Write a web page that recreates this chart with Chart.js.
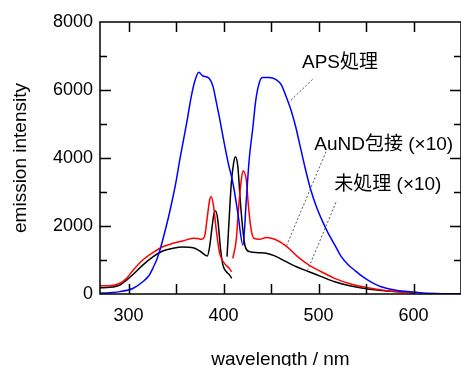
<!DOCTYPE html>
<html lang="ja">
<head>
<meta charset="UTF-8">
<title>emission spectra</title>
<script src="https://cdn.jsdelivr.net/npm/chart.js"></script>
<style>
  html, body { margin: 0; padding: 0; background: #fff; }
  #wrap { position: relative; width: 461px; height: 366px; }
</style>
</head>
<body>
<div id="wrap"><canvas id="spec"></canvas></div>
<script>
// APS処理
const apsWl  = [270, 280, 291, 305, 315, 322, 326, 330, 334, 338, 342, 346, 350, 354, 358, 362, 366, 370, 374, 378, 385, 389, 392, 396, 400, 405, 410, 415, 420.5, 424, 427, 431, 434, 438, 441, 448, 455, 461, 466, 471, 476, 480, 486, 492, 498, 504, 510, 517, 524, 531, 538, 545, 552, 559, 566, 580, 594, 610, 630, 650];
const apsVal = [20, 40, 70, 170, 360, 560, 780, 1030, 1380, 1800, 2250, 2750, 3300, 3950, 4550, 5150, 5800, 6280, 6520, 6420, 6340, 6100, 5705, 5150, 4550, 3850, 3250, 2400, 1440, 2765, 3940, 4920, 5705, 6245, 6370, 6370, 6310, 6145, 5800, 5410, 4920, 4430, 3700, 3050, 2550, 2150, 1800, 1450, 1100, 870, 700, 540, 410, 300, 215, 118, 70, 30, 10, 5];

// AuND包接 (×10), two pieces
const aundWl1  = [270, 280, 291, 298, 305, 315, 326, 336, 347, 357, 368, 373, 377, 380, 383, 385.4, 387.2, 389.6, 392.4, 396, 401, 406, 408.6];
const aundVal1 = [245, 245, 315, 460, 705, 1000, 1225, 1390, 1490, 1560, 1640, 1630, 1610, 1685, 2275, 2765, 2860, 2570, 1880, 1195, 900, 755, 655];
const aundWl2  = [409.8, 413.4, 416, 418.7, 420.5, 424, 426.3, 429.2, 432, 438, 445, 454, 466, 478, 490, 503, 517, 534, 552, 572, 587, 600];
const aundVal2 = [1050, 1590, 2570, 3350, 3620, 3350, 2570, 1880, 1640, 1610, 1665, 1610, 1410, 1100, 850, 655, 460, 295, 185, 95, 60, 35];

// 未処理 (×10), two pieces
const rawWl1  = [270, 280, 291, 298, 305, 315, 326, 336, 347, 357, 368, 375, 383, 385.4, 388, 390, 391.7, 394, 397, 399.4, 403, 406.4, 408.6];
const rawVal1 = [185, 195, 265, 410, 580, 850, 1100, 1265, 1345, 1380, 1360, 1265, 1120, 1390, 1980, 2370, 2440, 2175, 1295, 850, 655, 560, 460];
const rawWl2  = [403.7, 405.7, 408.2, 410.6, 412.5, 415.1, 417.6, 420.4, 422.9, 427.4, 436, 445, 454, 466, 478, 490, 503, 517, 534, 552, 572, 587, 600];
const rawVal2 = [1100, 2080, 3255, 3845, 4040, 3745, 2765, 1880, 1390, 1245, 1215, 1200, 1120, 950, 785, 655, 510, 360, 235, 147, 88, 65, 40];

const xLabels = [300, 400, 500, 600];
const yLabels = [0, 2000, 4000, 6000, 8000];

// labels with leader lines, in data units: text anchor, then line start/end
const noteText = ['APS処理', 'AuND包接 (×10)', '未処理 (×10)'];
const noteAt   = [[482.6, 6794], [495.6, 4382], [516.6, 3206]];
const noteFrom = [[493.8, 6314], [507.9, 4185], [518.4, 2697]];
const noteTo   = [[469.4, 5656], [465.9, 1391], [488.6, 706]];

const FONT = '"Liberation Sans", Arial, "Noto Sans CJK JP", sans-serif';

function pts(xs, ys) {
    return xs.map((x, i) => ({ x: x, y: ys[i] }));
}

function line(data, color) {
    return {
        data: data,
        borderColor: color,
        borderWidth: 1.5,
        pointRadius: 0,
        fill: false,
        cubicInterpolationMode: 'monotone'
    };
}

const framePlugin = {
    id: 'frame',
    afterDatasetsDraw(chart) {
        const ctx = chart.ctx;
        const a = chart.chartArea;
        const xs = chart.scales.x, ys = chart.scales.y;
        ctx.save();
        ctx.strokeStyle = '#000';
        ctx.lineWidth = 1.5;
        ctx.strokeRect(a.left, a.top, a.right - a.left, a.bottom - a.top);

        ctx.beginPath();
        for (let v = 300; v < 650; v += 50) {
            const px = Math.round(xs.getPixelForValue(v)) + 0.5;
            ctx.moveTo(px, a.bottom); ctx.lineTo(px, a.bottom - 10);
            ctx.moveTo(px, a.top);    ctx.lineTo(px, a.top + 10);
        }
        for (let v = 1000; v < 8000; v += 1000) {
            const py = Math.round(ys.getPixelForValue(v)) + 0.5;
            const len = v % 2000 === 0 ? 11 : 7;
            ctx.moveTo(a.left, py);  ctx.lineTo(a.left + len, py);
            ctx.moveTo(a.right, py); ctx.lineTo(a.right - len, py);
        }
        ctx.stroke();

        // leaders
        ctx.strokeStyle = '#555';
        ctx.lineWidth = 1;
        ctx.setLineDash([2, 2]);
        ctx.beginPath();
        noteFrom.forEach((p, i) => {
            ctx.moveTo(xs.getPixelForValue(p[0]), ys.getPixelForValue(p[1]));
            ctx.lineTo(xs.getPixelForValue(noteTo[i][0]), ys.getPixelForValue(noteTo[i][1]));
        });
        ctx.stroke();
        ctx.setLineDash([]);

        ctx.fillStyle = '#000';
        ctx.font = '19px ' + FONT;
        ctx.textAlign = 'left';
        ctx.textBaseline = 'middle';
        noteText.forEach((t, i) => {
            ctx.fillText(t, xs.getPixelForValue(noteAt[i][0]), ys.getPixelForValue(noteAt[i][1]));
        });
        ctx.restore();
    }
};

new Chart(document.getElementById('spec'), {
    type: 'line',
    data: {
        datasets: [
            line(pts(apsWl, apsVal), '#0000ff'),
            line(pts(aundWl1, aundVal1), '#ff0000'),
            line(pts(aundWl2, aundVal2), '#ff0000'),
            line(pts(rawWl1, rawVal1), '#000000'),
            line(pts(rawWl2, rawVal2), '#000000')
        ]
    },
    options: {
        responsive: true,
        maintainAspectRatio: false,
        animation: false,
        layout: { padding: { top: 22, right: -1, left: 0, bottom: 0 } },
        plugins: {
            legend: { display: false },
            tooltip: { enabled: false }
        },
        scales: {
            x: {
                type: 'linear',
                min: 270,
                max: 650,
                afterBuildTicks: s => { s.ticks = xLabels.map(v => ({ value: v })); },
                afterFit: s => { s.height = 72; s.paddingLeft = 0; s.paddingRight = 0; },
                grid: { display: false, drawTicks: false },
                border: { display: false },
                ticks: {
                    autoSkip: false,
                    maxRotation: 0,
                    padding: 11,
                    color: '#000',
                    font: { family: FONT, size: 18 },
                    callback: v => String(v)
                },
                title: {
                    display: true,
                    text: 'wavelength / nm',
                    color: '#000',
                    font: { family: FONT, size: 19 },
                    padding: { top: 0, bottom: -5 }
                }
            },
            y: {
                min: 0,
                max: 8000,
                afterBuildTicks: s => { s.ticks = yLabels.map(v => ({ value: v })); },
                afterFit: s => { s.width = 100; s.paddingTop = 0; s.paddingBottom = 0; },
                grid: { display: false, drawTicks: false },
                border: { display: false },
                ticks: {
                    padding: 7,
                    color: '#000',
                    font: { family: FONT, size: 18 },
                    callback: v => String(v)
                },
                title: {
                    display: true,
                    text: 'emission intensity',
                    color: '#000',
                    font: { family: FONT, size: 19 },
                    padding: { top: 9, bottom: 0 }
                }
            }
        }
    },
    plugins: [framePlugin]
});
</script>
</body>
</html>
